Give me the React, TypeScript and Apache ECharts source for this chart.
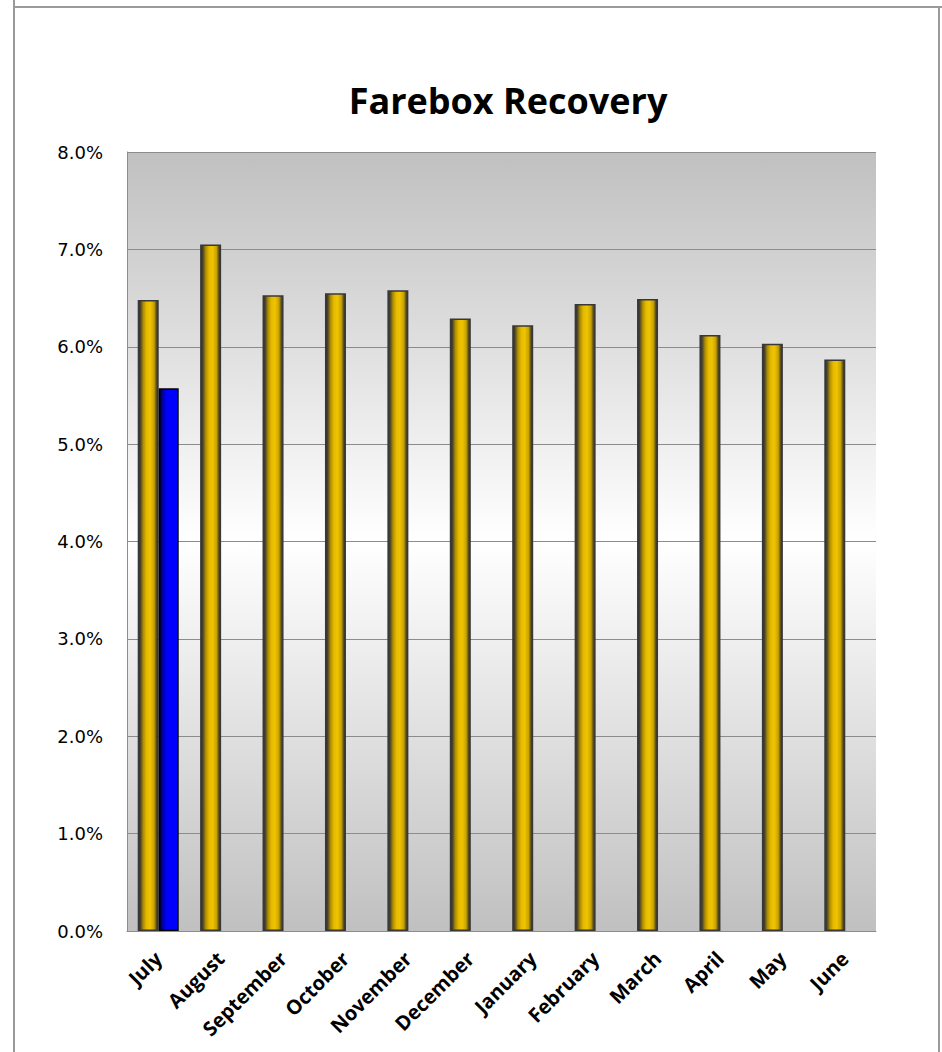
import React, { useEffect, useRef } from "react";
import * as echarts from "echarts";

const months = ["July", "August", "September", "October", "November", "December", "January", "February", "March", "April", "May", "June"];
const priorYear = [6.48, 7.05, 6.53, 6.55, 6.58, 6.29, 6.22, 6.44, 6.49, 6.12, 6.03, 5.87];
const currentYear: (number | string)[] = [5.575, "-", "-", "-", "-", "-", "-", "-", "-", "-", "-", "-"];
const yMin = 0;
const yMax = 8;
const yStep = 1;

export default function App() {
  const ref = useRef<HTMLDivElement>(null);
  useEffect(() => {
    if (!ref.current) return;
    const chart = echarts.init(ref.current, null, { renderer: "svg" });
    const gold = new echarts.graphic.LinearGradient(0, 0, 1, 0, [
      { offset: 0, color: "#303030" },
      { offset: 0.1, color: "#48432c" },
      { offset: 0.25, color: "#b08e00" },
      { offset: 0.42, color: "#e6ba00" },
      { offset: 0.6, color: "#efc400" },
      { offset: 0.8, color: "#c8a200" },
      { offset: 0.92, color: "#5a4e20" },
      { offset: 1, color: "#303030" },
    ]);
    const blue = new echarts.graphic.LinearGradient(0, 0, 1, 0, [
      { offset: 0, color: "#000020" },
      { offset: 0.2, color: "#0000b0" },
      { offset: 0.4, color: "#0000ff" },
      { offset: 1, color: "#0000ff" },
    ]);
    chart.setOption({
      animation: false,
      backgroundColor: "#ffffff",
      title: {
        text: "Farebox Recovery",
        left: 503,
        top: 77,
        textAlign: "center",
        textStyle: { fontFamily: "Open Sans", fontWeight: "bold", fontSize: 36, color: "#000" },
      },
      grid: { left: 127, right: 66, top: 152, bottom: 121, containLabel: false },
      graphic: [
        {
          type: "rect",
          z: -10,
          shape: { x: 127, y: 152, width: 749, height: 779 },
          style: {
            fill: new echarts.graphic.LinearGradient(0, 0, 0, 1, [
              { offset: 0, color: "#c0c0c0" },
              { offset: 0.5, color: "#ffffff" },
              { offset: 1, color: "#c0c0c0" },
            ]),
          },
          silent: true,
        },
        { type: "line", shape: { x1: 14, y1: 7, x2: 942, y2: 7 }, style: { stroke: "#9a9a9a", lineWidth: 2 }, silent: true },
        { type: "line", shape: { x1: 14, y1: 0, x2: 14, y2: 1052 }, style: { stroke: "#9a9a9a", lineWidth: 2 }, silent: true },
        { type: "line", shape: { x1: 939, y1: 7, x2: 939, y2: 1052 }, style: { stroke: "#9a9a9a", lineWidth: 2 }, silent: true },
      ],
      xAxis: {
        type: "category",
        data: months,
        axisLine: { show: true, lineStyle: { color: "#8c8c8c", width: 1 } },
        axisTick: { show: false },
        axisLabel: {
          rotate: 45,
          interval: 0,
          margin: 24,
          fontFamily: "Open Sans",
          fontWeight: "bold",
          fontSize: 20,
          color: "#000",
        },
      },
      yAxis: {
        type: "value",
        min: yMin,
        max: yMax,
        interval: yStep,
        axisLine: { show: true, lineStyle: { color: "#8c8c8c", width: 1 } },
        axisTick: { show: false },
        splitLine: { show: true, lineStyle: { color: "#8c8c8c", width: 1 } },
        axisLabel: {
          margin: 24,
          fontFamily: "DejaVu Sans",
          fontSize: 18,
          color: "#000",
          formatter: (v: number) => v.toFixed(1) + "%",
        },
      },
      series: [
        {
          type: "bar",
          name: "Prior Year",
          data: priorYear,
          barWidth: 21,
          barGap: "0%",
          itemStyle: { color: gold, borderColor: "#383838", borderWidth: 1.5 },
        },
        {
          type: "bar",
          name: "Current Year",
          data: currentYear,
          barWidth: 20,
          barGap: "0%",
          itemStyle: { color: blue, borderColor: "#000000", borderWidth: 1.5 },
        },
      ],
    });
    return () => chart.dispose();
  }, []);
  return (
    <div style={{ position: "absolute", left: 0, top: 0, width: 942, height: 1052 }}>
      <div ref={ref} style={{ width: 942, height: 1052 }} />
    </div>
  );
}
